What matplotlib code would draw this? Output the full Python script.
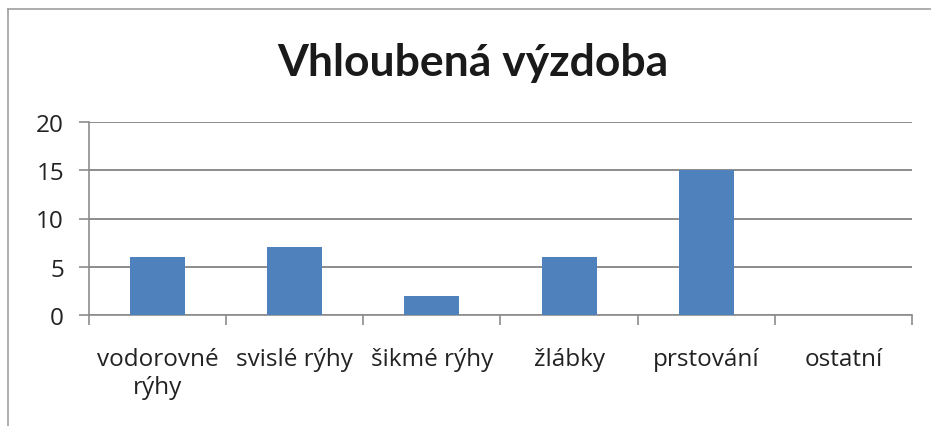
import numpy as np
import matplotlib.pyplot as plt
from matplotlib.lines import Line2D

categories = ['vodorovné\nrýhy', 'svislé rýhy', 'šikmé rýhy', 'žlábky', 'prstování', 'ostatní']
values = [6, 7, 2, 6, 15, 0]
yticks = [0, 5, 10, 15, 20]

W, H = 931, 427
plt.rcParams['font.family'] = ['Open Sans', 'DejaVu Sans']
fig = plt.figure(figsize=(W / 100, H / 100), dpi=100)

# chart frame (left and top edges visible)
fig.add_artist(Line2D([8 / W, 8 / W], [0, 1 - 10 / H], color='#a0a0a0', lw=1.2, transform=fig.transFigure))
fig.add_artist(Line2D([8 / W, 1], [1 - 10 / H, 1 - 10 / H], color='#a0a0a0', lw=1.2, transform=fig.transFigure))

ax = fig.add_axes([89 / W, 1 - 316 / H, (912 - 89) / W, (316 - 123) / H])
x = np.arange(len(categories))
ax.bar(x, values, width=0.4, color='#4f81bd', zorder=3)

ax.set_xlim(-0.5, len(categories) - 0.5)
ax.set_ylim(0, 20)
ax.set_yticks(yticks)
ax.set_yticklabels([str(v) for v in yticks], fontsize=17.5, color='#222222')
ax.yaxis.grid(True, color='#8c8c8c', lw=1.4, zorder=0)
ax.tick_params(axis='y', length=7, color='#8c8c8c', width=1.2, pad=11)

# category boundaries as ticks, labels at centres
ax.set_xticks(np.arange(len(categories) + 1) - 0.5)
ax.set_xticklabels([])
ax.set_xticks(x, minor=True)
ax.set_xticklabels(categories, minor=True, fontsize=17.5, color='#222222', linespacing=1.2, va='top')
ax.tick_params(axis='x', which='minor', length=0, pad=23)
ax.tick_params(axis='x', which='major', length=7, color='#8c8c8c', width=1.2)

for s in ['top', 'right']:
    ax.spines[s].set_visible(False)
for s in ['left', 'bottom']:
    ax.spines[s].set_color('#8c8c8c')
    ax.spines[s].set_linewidth(1.2)

fig.text(473 / W, 1 - 63 / H, 'Vhloubená výzdoba', ha='center', va='center',
         fontsize=32, fontweight='bold', color='#1a1a1a', family=['Lato', 'DejaVu Sans'])

fig.savefig('out.png', dpi=100)
